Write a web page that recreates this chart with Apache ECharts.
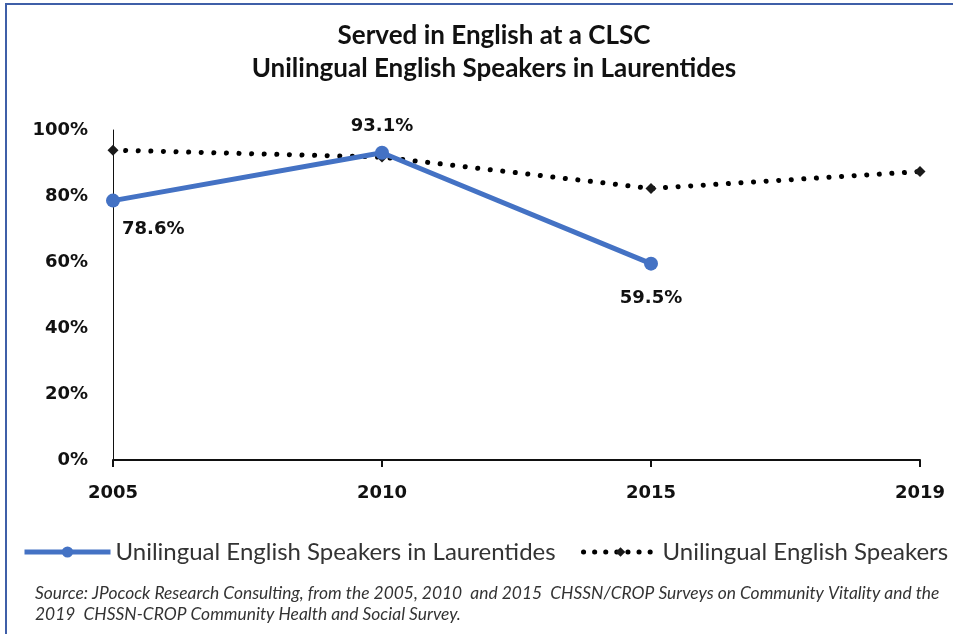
<!DOCTYPE html>
<html>
<head>
<meta charset="utf-8">
<script src="https://cdn.jsdelivr.net/npm/echarts@6/dist/echarts.min.js"></script>
<style>
html,body{margin:0;padding:0;background:#fff;}
#chart{width:953px;height:634px;}
</style>
</head>
<body>
<div id="chart"></div>
<script>
const categories = ['2005', '2010', '2015', '2019'];
const laurentides = [0.786, 0.931, 0.595, null];
const allSpeakers = [0.939, 0.918, 0.823, 0.874];
const yTicks = [0, 0.2, 0.4, 0.6, 0.8, 1.0];
const titleLines = ['Served in English at a CLSC', 'Unilingual English Speakers in Laurentides'];
const seriesNames = ['Unilingual English Speakers in Laurentides', 'Unilingual English Speakers'];
const sourceText = 'Source: JPocock Research Consulting, from the 2005, 2010  and 2015  CHSSN/CROP Surveys on Community Vitality and the\n2019  CHSSN-CROP Community Health and Social Survey.';

const labelFont = 'DejaVu Sans';
const labelPlacement = [
  {position: 'right', offset: [0, 29], align: 'left', distance: 2},
  {position: 'top', distance: 10},
  {position: 'bottom', distance: 19}
];

const chart = echarts.init(document.getElementById('chart'), null, {renderer: 'canvas'});
const blueData = laurentides.map((v, i) => ({
  value: v,
  label: Object.assign({
    show: v !== null,
    formatter: p => (p.value * 100).toFixed(1) + '%',
    fontFamily: labelFont, fontWeight: 'bold', fontSize: 18, color: '#111'
  }, labelPlacement[i] || {})
}));

chart.setOption({
  animation: false,
  backgroundColor: '#fff',
  title: {
    text: titleLines.join('\n'),
    left: 494,
    top: 19,
    padding: 0,
    textAlign: 'center',
    textStyle: {fontFamily: 'Lato', fontWeight: 'bold', fontSize: 26, color: '#111', lineHeight: 33}
  },
  grid: {left: 113, right: 33, top: 130, bottom: 174, containLabel: false},
  legend: [
    {
      data: [seriesNames[0]], left: 17, top: 535,
      itemWidth: 86, itemHeight: 14, itemGap: 18,
      lineStyle: {width: 5},
      textStyle: {fontFamily: 'Lato', fontSize: 24, color: '#333'}
    },
    {
      data: [seriesNames[1]], left: 576, top: 535,
      itemWidth: 74, itemHeight: 12,
      lineStyle: {width: 5, type: [0.1, 11], cap: 'round'},
      textStyle: {fontFamily: 'Lato', fontSize: 24, color: '#333'}
    }
  ],
  xAxis: {
    type: 'category', data: categories, boundaryGap: false,
    axisLine: {lineStyle: {color: '#111', width: 2}},
    axisTick: {show: true, alignWithLabel: true, length: 7, lineStyle: {color: '#111', width: 2}},
    axisLabel: {fontFamily: labelFont, fontWeight: 'bold', fontSize: 18, color: '#111', margin: 24}
  },
  yAxis: {
    type: 'value', min: yTicks[0], max: yTicks[yTicks.length - 1], interval: yTicks[1] - yTicks[0],
    axisLine: {show: true, lineStyle: {color: '#111', width: 1}},
    axisTick: {show: false},
    splitLine: {show: false},
    axisLabel: {fontFamily: labelFont, fontWeight: 'bold', fontSize: 18, color: '#111', margin: 25,
      formatter: v => Math.round(v * 100) + '%'}
  },
  series: [
    {
      name: seriesNames[1], type: 'line', data: allSpeakers, z: 2,
      symbol: 'diamond', symbolSize: 11,
      itemStyle: {color: '#1a1a1a'},
      lineStyle: {color: '#000', width: 5, type: [0.1, 12.5], cap: 'round'}
    },
    {
      name: seriesNames[0], type: 'line', data: blueData, z: 3,
      symbol: 'circle', symbolSize: 14,
      itemStyle: {color: '#4472C4'},
      lineStyle: {color: '#4472C4', width: 5}
    }
  ],
  graphic: [
    {type: 'rect', shape: {x: 6, y: 4, width: 960, height: 650}, style: {fill: 'none', stroke: '#3F5FA8', lineWidth: 2}, silent: true},
    {type: 'text', left: 35, top: 583, style: {text: sourceText, fontFamily: 'Lato', fontStyle: 'italic', fontSize: 17.4, lineHeight: 21, fill: '#333'}}
  ]
});
</script>
</body>
</html>
